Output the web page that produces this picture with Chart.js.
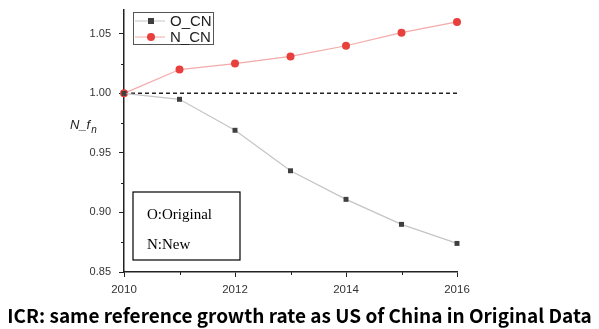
<!DOCTYPE html>
<html>
<head>
<meta charset="utf-8">
<script src="https://cdn.jsdelivr.net/npm/chart.js@4.4.0/dist/chart.umd.min.js"></script>
<style>
  html, body { margin: 0; padding: 0; background: #fff; }
  #wrap { position: relative; width: 599px; height: 329px; }
  #caption {
    position: absolute; left: 0; top: 303px; width: 599px;
    text-align: center; font-family: "Noto Sans CJK SC", sans-serif;
    font-weight: bold; font-size: 19px; color: #000; line-height: 24px;
    white-space: nowrap;
  }
</style>
</head>
<body>
<div id="wrap">
  <canvas id="icr-chart" width="599" height="329"></canvas>
  <div id="caption">ICR: same reference growth rate as US of China in Original Data</div>
</div>
<script>
const years = [2010, 2011, 2012, 2013, 2014, 2015, 2016];
const originalCN = [1.000, 0.995, 0.969, 0.935, 0.911, 0.890, 0.874];
const newCN = [1.000, 1.020, 1.025, 1.031, 1.040, 1.051, 1.060];
const xTicks = [2010, 2012, 2014, 2016];
const yTicks = [0.85, 0.90, 0.95, 1.00, 1.05];
const xMinorTicks = [2011, 2013, 2015];
const yMinorTicks = [0.875, 0.925, 0.975, 1.025];
const referenceLevel = 1.00;

const icrContext = document.getElementById("icr-chart");

// dashed reference line, minor ticks, legend, note box and axis title
const decorations = {
    id: "decorations",
    beforeDatasetsDraw(chart) {
        const { ctx, chartArea, scales } = chart;
        const y = scales.y.getPixelForValue(referenceLevel);
        ctx.save();
        ctx.strokeStyle = "#222";
        ctx.lineWidth = 1.5;
        ctx.setLineDash([4, 3]);
        ctx.beginPath();
        ctx.moveTo(chartArea.left, y);
        ctx.lineTo(chartArea.right, y);
        ctx.stroke();
        ctx.restore();
    },
    afterDraw(chart) {
        const { ctx, chartArea, scales } = chart;
        ctx.save();
        ctx.strokeStyle = "#222";
        ctx.lineWidth = 1;
        ctx.beginPath();
        yMinorTicks.forEach((v) => {
            const y = Math.round(scales.y.getPixelForValue(v)) + 0.5;
            ctx.moveTo(chartArea.left - 3, y);
            ctx.lineTo(chartArea.left, y);
        });
        xMinorTicks.forEach((v) => {
            const x = Math.round(scales.x.getPixelForValue(v)) + 0.5;
            ctx.moveTo(x, chartArea.bottom);
            ctx.lineTo(x, chartArea.bottom + 3);
        });
        ctx.stroke();

        // legend
        ctx.strokeStyle = "#555";
        ctx.lineWidth = 1;
        ctx.strokeRect(133.5, 12.5, 80, 32);
        const rows = [
            { label: "O_CN", ds: chart.data.datasets[0], y: 21 },
            { label: "N_CN", ds: chart.data.datasets[1], y: 37 },
        ];
        rows.forEach((r) => {
            ctx.strokeStyle = r.ds.borderColor;
            ctx.lineWidth = 1;
            ctx.beginPath();
            ctx.moveTo(135, r.y);
            ctx.lineTo(165, r.y);
            ctx.stroke();
            ctx.fillStyle = r.ds.pointBackgroundColor;
            if (r.ds.pointStyle === "rect") {
                ctx.fillRect(148, r.y - 3, 6, 6);
            } else {
                ctx.beginPath();
                ctx.arc(151, r.y, 4, 0, Math.PI * 2);
                ctx.fill();
            }
            ctx.fillStyle = "#222";
            ctx.font = "15px 'Liberation Sans', Arial, sans-serif";
            ctx.textBaseline = "middle";
            ctx.fillText(r.label, 170, r.y + 1);
        });

        // note box
        ctx.strokeStyle = "#000";
        ctx.lineWidth = 1.2;
        ctx.strokeRect(133, 192, 107, 68);
        ctx.fillStyle = "#000";
        ctx.font = "15px 'Liberation Serif', 'Times New Roman', serif";
        ctx.textBaseline = "alphabetic";
        ctx.fillText("O:Original", 147, 219);
        ctx.fillText("N:New", 147, 249);

        // axis title N_f with subscript n
        ctx.fillStyle = "#222";
        ctx.font = "italic 13px 'Liberation Sans', Arial, sans-serif";
        ctx.fillText("N_f", 70, 129);
        const w = ctx.measureText("N_f").width;
        ctx.font = "italic 10px 'Liberation Sans', Arial, sans-serif";
        ctx.fillText("n", 70 + w + 1, 133);
        ctx.restore();
    },
};

const icrData = {
    labels: years,
    datasets: [
        {
            label: "O_CN",
            data: years.map((yr, i) => ({ x: yr, y: originalCN[i] })),
            borderColor: "#c4c4c4",
            borderWidth: 1.2,
            pointStyle: "rect",
            pointRadius: 3.5,
            pointBackgroundColor: "#3f3f3f",
            pointBorderColor: "#3f3f3f",
            pointBorderWidth: 0,
        },
        {
            label: "N_CN",
            data: years.map((yr, i) => ({ x: yr, y: newCN[i] })),
            borderColor: "#f3aaa8",
            borderWidth: 1.2,
            pointStyle: "circle",
            pointRadius: 4,
            pointBackgroundColor: "#e8403d",
            pointBorderColor: "#e8403d",
            pointBorderWidth: 0,
        },
    ],
};

const icrConfig = {
    type: "line",
    data: icrData,
    plugins: [decorations],
    options: {
        responsive: false,
        animation: false,
        clip: false,
        layout: { padding: { top: 10, right: 142, left: 0, bottom: 0 } },
        plugins: {
            legend: { display: false },
            tooltip: { enabled: false },
        },
        scales: {
            x: {
                type: "linear",
                min: 2010,
                max: 2016,
                afterBuildTicks: (scale) => {
                    scale.ticks = xTicks.map((v) => ({ value: v }));
                },
                afterFit: (scale) => {
                    scale.height = 57;
                },
                ticks: {
                    color: "#333",
                    font: { family: "'Liberation Sans', Arial, sans-serif", size: 11.5 },
                    padding: 6,
                    callback: (v) => String(v),
                    maxRotation: 0,
                },
                grid: { drawOnChartArea: false, tickLength: 5, color: "#222" },
                border: { color: "#222", width: 1.5 },
            },
            y: {
                min: 0.85,
                max: 1.07,
                afterBuildTicks: (scale) => {
                    scale.ticks = yTicks.map((v) => ({ value: v }));
                },
                afterFit: (scale) => {
                    scale.width = 124;
                    scale.paddingTop = 0;
                    scale.paddingBottom = 0;
                },
                ticks: {
                    color: "#333",
                    font: { family: "'Liberation Sans', Arial, sans-serif", size: 11 },
                    padding: 8,
                    callback: (v) => Number(v).toFixed(2),
                },
                grid: { drawOnChartArea: false, tickLength: 5, color: "#222" },
                border: { color: "#222", width: 1.5 },
            },
        },
    },
};

const icrChart = new Chart(icrContext, icrConfig);
</script>
</body>
</html>
